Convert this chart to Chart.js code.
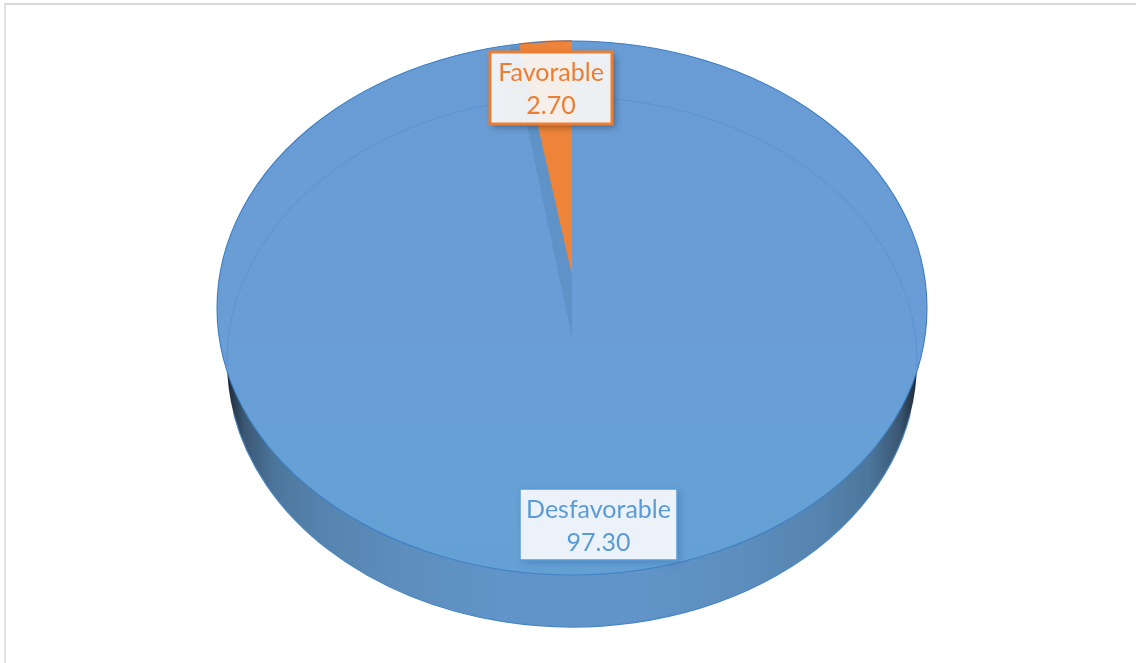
<!DOCTYPE html>
<html lang="es">
<head>
  <meta charset="UTF-8" />
  <title>Favorable / Desfavorable</title>
  <script src="https://cdn.jsdelivr.net/npm/chart.js"></script>
  <style>
    html, body { margin: 0; padding: 0; background: #fff; overflow: hidden; }
    #frame {
      position: absolute; left: 4px; top: 3px; right: 0; bottom: 0;
      border-top: 2px solid #d9d9d9; border-left: 2px solid #e2e2e2;
    }
    #pie { position: absolute; left: 0; top: 0; }
  </style>
</head>
<body>
  <div id="frame"></div>
  <canvas id="pie" width="1136" height="663"></canvas>

  <script>
    const categories = ['Desfavorable', 'Favorable'];
    const values = [97.30, 2.70];
    const sliceColors = ['#689dd5', '#ee8439'];
    const textColors = ['#5b9bd5', '#ed7d31'];

    // look of the tilted disc (pixels on the page)
    const radiusX = 355, squash = 267 / 355;
    const wallDrop = 54, wallRx = 345, wallRy = 265;
    const orangeCut = { dy: -33, sx: 0.883, sy: 0.662 };
    const darkCut = { dy: 29, sx: 1.03, sy: 0.83 };

    const labelBoxes = [
      { cx: 598.5, top: 489, w: 157, h: 71, fill: 'rgba(240,244,251,0.98)', line: '#5b9bd5', lw: 1.5, shadow: 'rgba(40,90,150,0.35)' },
      { cx: 551, top: 52, w: 122, h: 72, fill: 'rgba(255,255,255,0.9)', line: '#ed7d31', lw: 3, shadow: 'rgba(0,0,0,0.4)' }
    ];

    function ellipsePath(ctx, x, y, rx, ry, from, to) {
      ctx.beginPath();
      ctx.ellipse(x, y, rx, ry, 0, from, to);
    }

    // top face goes a little greener towards the front
    function faceGradient(ctx, y0, y1) {
      const g = ctx.createLinearGradient(0, y0, 0, y1);
      g.addColorStop(0, '#699cd5');
      g.addColorStop(0.55, '#6a9dd6');
      g.addColorStop(0.72, '#67a0d6');
      g.addColorStop(1, '#65a0d5');
      return g;
    }

    function drawInto(arc, ctx, area, dy, sx, sy, color) {
      const saved = arc.options;
      if (color) arc.options = Object.assign({}, saved, { backgroundColor: color });
      ctx.save();
      ctx.translate(arc.x, arc.y + dy);
      ctx.scale(sx, sy);
      ctx.translate(-arc.x, -arc.y);
      arc._plainDraw(ctx, area);
      ctx.restore();
      arc.options = saved;
    }

    const discPlugin = {
      id: 'disc',
      afterDatasetsUpdate(chart) {
        const [blue, orange] = chart.getDatasetMeta(0).data;
        [blue, orange].forEach(a => { if (!a._plainDraw) a._plainDraw = a.draw; });
        blue.draw = (ctx, area) => drawInto(blue, ctx, area, 0, 1, squash);
        orange.draw = (ctx, area) => {
          drawInto(orange, ctx, area, darkCut.dy, darkCut.sx, darkCut.sy, '#5f92c6');
          drawInto(orange, ctx, area, orangeCut.dy, orangeCut.sx, orangeCut.sy);
        };
      },
      beforeDatasetsDraw(chart) {
        const ctx = chart.ctx;
        const arc = chart.getDatasetMeta(0).data[0];
        const wallY = arc.y + wallDrop;
        const ry = radiusX * squash;

        // side wall, dark at both ends
        const g = ctx.createLinearGradient(arc.x - wallRx, 0, arc.x + wallRx, 0);
        g.addColorStop(0, '#1c2937');
        g.addColorStop(0.025, '#3a5773');
        g.addColorStop(0.07, '#4c769c');
        g.addColorStop(0.14, '#5684af');
        g.addColorStop(0.26, '#5d8ebd');
        g.addColorStop(0.4, '#6194c8');
        g.addColorStop(0.6, '#6194c8');
        g.addColorStop(0.74, '#5d8ebd');
        g.addColorStop(0.86, '#5684af');
        g.addColorStop(0.93, '#4c769c');
        g.addColorStop(0.975, '#3a5773');
        g.addColorStop(1, '#1c2937');
        ctx.save();
        ellipsePath(ctx, arc.x, wallY, wallRx, wallRy, 0, Math.PI * 2);
        ctx.fillStyle = g;
        ctx.fill();
        ellipsePath(ctx, arc.x, wallY, wallRx, wallRy, 0.2, Math.PI - 0.2);
        ctx.strokeStyle = '#4a87c6';
        ctx.lineWidth = 1.2;
        ctx.stroke();

        // top face under the slices, so the cut never shows white
        ellipsePath(ctx, arc.x, arc.y, radiusX, ry, 0, Math.PI * 2);
        ctx.fillStyle = faceGradient(ctx, arc.y - ry, arc.y + ry);
        ctx.fill();
        ctx.restore();
      },
      afterDatasetsDraw(chart) {
        const ctx = chart.ctx;
        const arc = chart.getDatasetMeta(0).data[0];
        ctx.save();
        // faint line of the rim on the far side
        ellipsePath(ctx, arc.x, arc.y + wallDrop, wallRx, wallRy, Math.PI - 0.02, Math.PI * 2 + 0.02);
        ctx.strokeStyle = 'rgba(62,125,195,0.38)';
        ctx.lineWidth = 1;
        ctx.stroke();
        // outer rim of the top face
        ellipsePath(ctx, arc.x, arc.y, radiusX, radiusX * squash, 0, Math.PI * 2);
        ctx.strokeStyle = '#3f80c4';
        ctx.lineWidth = 1.1;
        ctx.stroke();
        ctx.restore();
      },
      afterDraw(chart) {
        const ctx = chart.ctx;
        categories.forEach((name, i) => {
          const b = labelBoxes[i];
          const left = b.cx - b.w / 2;
          ctx.save();
          ctx.shadowColor = b.shadow;
          ctx.shadowBlur = 7;
          ctx.shadowOffsetX = 3;
          ctx.shadowOffsetY = 3;
          ctx.fillStyle = b.fill;
          ctx.fillRect(left, b.top, b.w, b.h);
          ctx.shadowColor = 'transparent';
          ctx.strokeStyle = b.line;
          ctx.lineWidth = b.lw;
          ctx.strokeRect(left, b.top, b.w, b.h);
          ctx.fillStyle = textColors[i];
          ctx.font = '25px Lato, "Open Sans", sans-serif';
          ctx.textAlign = 'center';
          ctx.textBaseline = 'middle';
          ctx.fillText(name, b.cx, b.top + 21);
          ctx.fillText(values[i].toFixed(2), b.cx, b.top + 53.5);
          ctx.restore();
        });
      }
    };

    new Chart(document.getElementById('pie').getContext('2d'), {
      type: 'pie',
      data: {
        labels: categories,
        datasets: [{
          data: values,
          backgroundColor: c => {
            if (c.dataIndex !== 0 || !c.chart.chartArea) return sliceColors[c.dataIndex];
            const a = c.chart.chartArea;
            const mid = (a.top + a.bottom) / 2;
            return faceGradient(c.chart.ctx, mid - radiusX, mid + radiusX);
          },
          borderWidth: 0,
          radius: radiusX,
          clip: false
        }]
      },
      options: {
        responsive: false,
        devicePixelRatio: 1,
        animation: false,
        layout: { padding: { left: 8, bottom: 47 } },
        plugins: { legend: { display: false }, tooltip: { enabled: false } }
      },
      plugins: [discPlugin]
    });
  </script>
</body>
</html>
